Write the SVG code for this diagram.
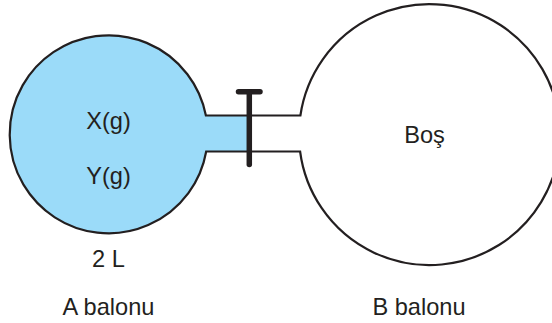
<svg xmlns="http://www.w3.org/2000/svg" width="552" height="323" viewBox="0 0 552 323">
<style>
.o{stroke:#231f20;stroke-width:2.2;fill:none;stroke-linejoin:miter}
.t{font-family:"Liberation Sans",Arial,sans-serif;font-size:23.600px;fill:#231f20;text-anchor:middle}
.v{stroke:#231f20;stroke-width:5.500;stroke-linecap:round;fill:none}
</style>
<rect width="552" height="323" fill="#fff"/>
<g id="balloon-a">
<path d="M205.900 115.500A99 99 0 1 0 206.200 151.500H249V115.500Z" fill="#9bdbf9"/>
<path class="o" d="M249 115.500H205.900A99 99 0 1 0 206.200 151.500H249"/>
<text class="t" x="108.500" y="129">X(g)</text>
<text class="t" x="108.500" y="184">Y(g)</text>
<text class="t" x="108.500" y="267">2 L</text>
<text class="t" x="108.500" y="315">A balonu</text>
</g>
<g id="balloon-b">
<path class="o" d="M249 115.500H300.400A130.500 130.500 0 1 1 300.100 151.500H249"/>
<text class="t" x="424.500" y="143">Boş</text>
<text class="t" x="419" y="315">B balonu</text>
</g>
<g id="valve">
<path class="v" d="M238.500 91.700H260"/>
<path class="v" d="M249.300 91.700V164.500"/>
</g>
</svg>
